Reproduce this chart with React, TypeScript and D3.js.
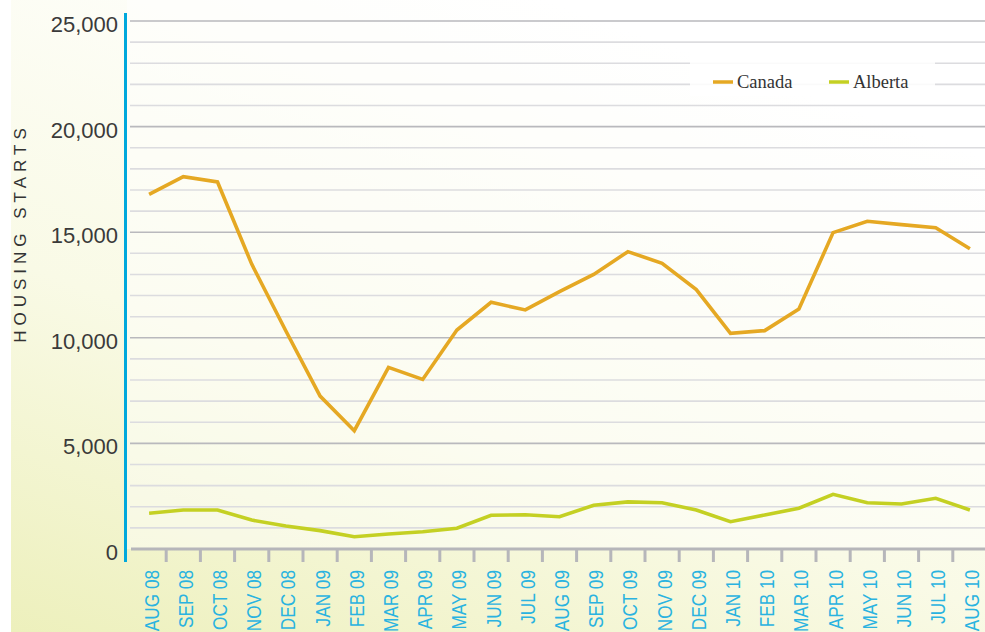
import * as d3 from "d3";

// month labels along the bottom
const months = [
  "AUG 08", "SEP 08", "OCT 08", "NOV 08", "DEC 08", "JAN 09", "FEB 09", "MAR 09", "APR 09",
  "MAY 09", "JUN 09", "JUL 09", "AUG 09", "SEP 09", "OCT 09", "NOV 09", "DEC 09",
  "JAN 10", "FEB 10", "MAR 10", "APR 10", "MAY 10", "JUN 10", "JUL 10", "AUG 10",
];

// housing starts
const canada = [
  16790, 17630, 17380, 13490, 10320, 7240, 5600, 8600, 8030, 10370, 11680, 11320, 12190,
  13000, 14080, 13530, 12280, 10210, 10340, 11360, 14980, 15520, 15360, 15210, 14220,
];
const alberta = [
  1690, 1850, 1850, 1370, 1090, 870, 580, 710, 820, 980, 1600, 1620, 1530,
  2070, 2230, 2190, 1850, 1290, 1610, 1930, 2590, 2190, 2130, 2400, 1850,
];

const yTicks = [0, 5000, 10000, 15000, 20000, 25000];
const seriesNames = ["Canada", "Alberta"];
const seriesColors = ["#e5a823", "#c4d023"];

const width = 985;
const height = 632;

const App = () => {
  const x = d3.scaleBand<string>().domain(months).range([132, 987]);
  const y = d3.scaleLinear().domain([0, 25000]).range([549, 21]);
  const cx = (i: number) => (x(months[i]) ?? 0) + x.bandwidth() / 2;

  const line = d3.line<number>()
    .x((_, i) => cx(i))
    .y(d => y(d));

  // gridlines every 1000, darker every 5000
  const grid = d3.range(1000, 25001, 1000);
  const fmt = d3.format(",");

  return (
    <svg width={width} height={height} style={{position: "absolute", left: 0, top: 0}}>
      <defs>
        <linearGradient id="bg" x1="0" y1="1" x2="0.55" y2="0">
          <stop offset="0" stopColor="#edf0bc"/>
          <stop offset="0.45" stopColor="#f9fae6"/>
          <stop offset="1" stopColor="#ffffff"/>
        </linearGradient>
      </defs>
      <rect x={0} y={0} width={width} height={height} fill="#fff"/>
      <rect x={11} y={0} width={width - 11} height={height} fill="url(#bg)"/>
      <rect x={127} y={0} width={width - 127} height={549} fill="#fff" opacity={0.45}/>

      {/* gridlines */}
      {grid.map(v => (
        <line key={v} x1={130} x2={width} y1={y(v)} y2={y(v)}
              stroke={v % 5000 === 0 ? "#b9b9bd" : "#dcdcdf"} strokeWidth={1.6}/>
      ))}

      {/* legend box */}
      <rect x={690} y={56} width={245} height={40} fill="#fff" opacity={0.85}/>
      {seriesNames.map((name, i) => (
        <g key={name} transform={`translate(${713 + i * 116},82)`}>
          <line x1={0} x2={20} y1={0} y2={0} stroke={seriesColors[i]} strokeWidth={3.5}/>
          <text x={24} y={5.5} fontFamily="'Liberation Serif', serif" fontSize={18.5} fill="#333">{name}</text>
        </g>
      ))}

      {/* x axis */}
      <line x1={131} x2={width} y1={549} y2={549} stroke="#b6b6ba" strokeWidth={3}/>
      {months.slice(1).map(m => (
        <line key={m} x1={x(m)} x2={x(m)} y1={549} y2={562} stroke="#b6b6ba" strokeWidth={3}/>
      ))}
      {months.map((m, i) => (
        <text key={m} transform={`translate(${cx(i) + 9.5},570) rotate(-90) scale(0.86,1)`}
              textAnchor="end" fontFamily="'Liberation Sans', Arial, sans-serif" fontSize={20}
              fill="#2ab3e0">{m}</text>
      ))}

      {/* y axis */}
      <line x1={125.5} x2={125.5} y1={13} y2={562} stroke="#00a8dc" strokeWidth={3}/>
      {yTicks.map(v => (
        <text key={v} x={118} y={y(v) + 11} textAnchor="end"
              fontFamily="'Liberation Sans', Arial, sans-serif" fontSize={22} fill="#3a3a3a">{fmt(v)}</text>
      ))}
      <text transform="translate(26,233) rotate(-90)" textAnchor="middle"
            fontFamily="'Liberation Sans', Arial, sans-serif" fontSize={17} letterSpacing={5}
            fill="#333">HOUSING STARTS</text>

      {/* series */}
      {[canada, alberta].map((s, i) => (
        <path key={i} d={line(s) ?? ""} fill="none" stroke={seriesColors[i]} strokeWidth={3.6}
              strokeLinejoin="miter"/>
      ))}
    </svg>
  );
};

export default App;
